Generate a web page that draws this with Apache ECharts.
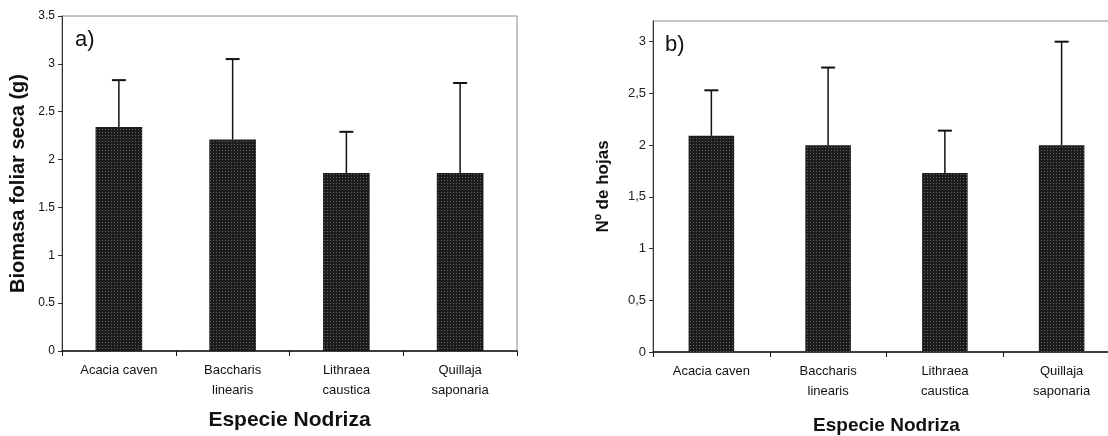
<!DOCTYPE html>
<html>
<head>
<meta charset="utf-8">
<script src="https://cdn.jsdelivr.net/npm/echarts@6/dist/echarts.min.js"></script>
<style>html,body{margin:0;padding:0;background:#fff}#c{width:1108px;height:436px}</style>
</head>
<body>
<div id="c"></div>
<script>
const categories = ['Acacia caven', 'Baccharis\nlinearis', 'Lithraea\ncaustica', 'Quillaja\nsaponaria'];
const biomasaMean = [2.34, 2.21, 1.86, 1.86];
const biomasaErr = [0.49, 0.84, 0.43, 0.94];
const hojasMean = [2.09, 2.00, 1.73, 2.00];
const hojasErr = [0.44, 0.75, 0.41, 1.00];
const yTicksA = [0, 0.5, 1, 1.5, 2, 2.5, 3, 3.5];
const yTicksB = [0, 0.5, 1, 1.5, 2, 2.5, 3];

const FONT = 'Liberation Sans, Arial, sans-serif';
const chart = echarts.init(document.getElementById('c'), null, {renderer: 'canvas'});

function errSeries(axisIdx, mean, err) {
  return {
    type: 'custom',
    xAxisIndex: axisIdx, yAxisIndex: axisIdx,
    z: 3,
    data: mean.map((m, i) => [i, m, m + err[i]]),
    renderItem: function (params, api) {
      const base = api.coord([api.value(0), api.value(1)]);
      const top = api.coord([api.value(0), api.value(2)]);
      const hw = 7;
      return {
        type: 'group',
        children: [
          {type: 'line', shape: {x1: base[0], y1: base[1], x2: top[0], y2: top[1]},
           style: {stroke: '#111', lineWidth: 1.5}},
          {type: 'line', shape: {x1: top[0] - hw, y1: top[1], x2: top[0] + hw, y2: top[1]},
           style: {stroke: '#111', lineWidth: 2}}
        ]
      };
    }
  };
}

const decal = {
  symbol: 'rect', symbolSize: 1,
  dashArrayX: [1, 2], dashArrayY: [1, 2],
  color: 'rgba(190,190,190,0.45)'
};

function xAxisCfg(gridIndex, nameSize, nameGap) {
  return {
    type: 'category', gridIndex: gridIndex, data: categories,
    name: 'Especie Nodriza', nameLocation: 'middle', nameGap: nameGap,
    nameTextStyle: {fontFamily: FONT, fontWeight: 'bold', fontSize: nameSize, color: '#111'},
    axisLine: {lineStyle: {color: '#111', width: 1.5}},
    axisTick: {show: true, length: 5, inside: false, lineStyle: {color: '#111'}},
    axisLabel: {fontFamily: FONT, fontSize: 13, color: '#111', lineHeight: 20, margin: 9, interval: 0}
  };
}

chart.setOption({
  animation: false,
  backgroundColor: '#fff',
  grid: [
    {left: 62, top: 16, width: 455, height: 335, show: true, borderColor: '#8a8a8a', borderWidth: 1,
     outerBoundsMode: 'none', containLabel: false},
    {left: 653, top: 21, width: 467, height: 331, show: true, borderColor: '#8a8a8a', borderWidth: 1,
     outerBoundsMode: 'none', containLabel: false}
  ],
  xAxis: [xAxisCfg(0, 21, 59), xAxisCfg(1, 19, 64)],
  yAxis: [
    {
      type: 'value', gridIndex: 0, min: 0, max: 3.5, interval: 0.5,
      name: 'Biomasa foliar seca (g)', nameLocation: 'middle', nameGap: 34,
      nameTextStyle: {fontFamily: FONT, fontWeight: 'bold', fontSize: 20, color: '#111'},
      axisLine: {show: true, lineStyle: {color: '#333', width: 1}},
      axisTick: {show: true, length: 4, lineStyle: {color: '#333'}, customValues: yTicksA},
      axisLabel: {fontFamily: FONT, fontSize: 12, color: '#111', margin: 7, customValues: yTicksA},
      splitLine: {show: false}
    },
    {
      type: 'value', gridIndex: 1, min: 0, max: 3.2, interval: 0.5,
      name: 'Nº de hojas', nameLocation: 'middle', nameGap: 41,
      nameTextStyle: {fontFamily: FONT, fontWeight: 'bold', fontSize: 17, color: '#111'},
      axisLine: {show: true, lineStyle: {color: '#333', width: 1}},
      axisTick: {show: true, length: 4, lineStyle: {color: '#333'}, customValues: yTicksB},
      axisLabel: {fontFamily: FONT, fontSize: 13, color: '#222', margin: 7, customValues: yTicksB,
                  formatter: v => String(v).replace('.', ',')},
      splitLine: {show: false}
    }
  ],
  graphic: [
    {type: 'text', left: 75, top: 29, style: {text: 'a)', font: '22px ' + FONT, fill: '#111'}},
    {type: 'text', left: 665, top: 34, style: {text: 'b)', font: '22px ' + FONT, fill: '#111'}}
  ],
  series: [
    {type: 'bar', xAxisIndex: 0, yAxisIndex: 0, data: biomasaMean, barWidth: '41%',
     itemStyle: {color: '#1c1c1c', decal: decal}},
    errSeries(0, biomasaMean, biomasaErr),
    {type: 'bar', xAxisIndex: 1, yAxisIndex: 1, data: hojasMean, barWidth: '39%',
     itemStyle: {color: '#1c1c1c', decal: decal}},
    errSeries(1, hojasMean, hojasErr)
  ]
});
</script>
</body>
</html>
